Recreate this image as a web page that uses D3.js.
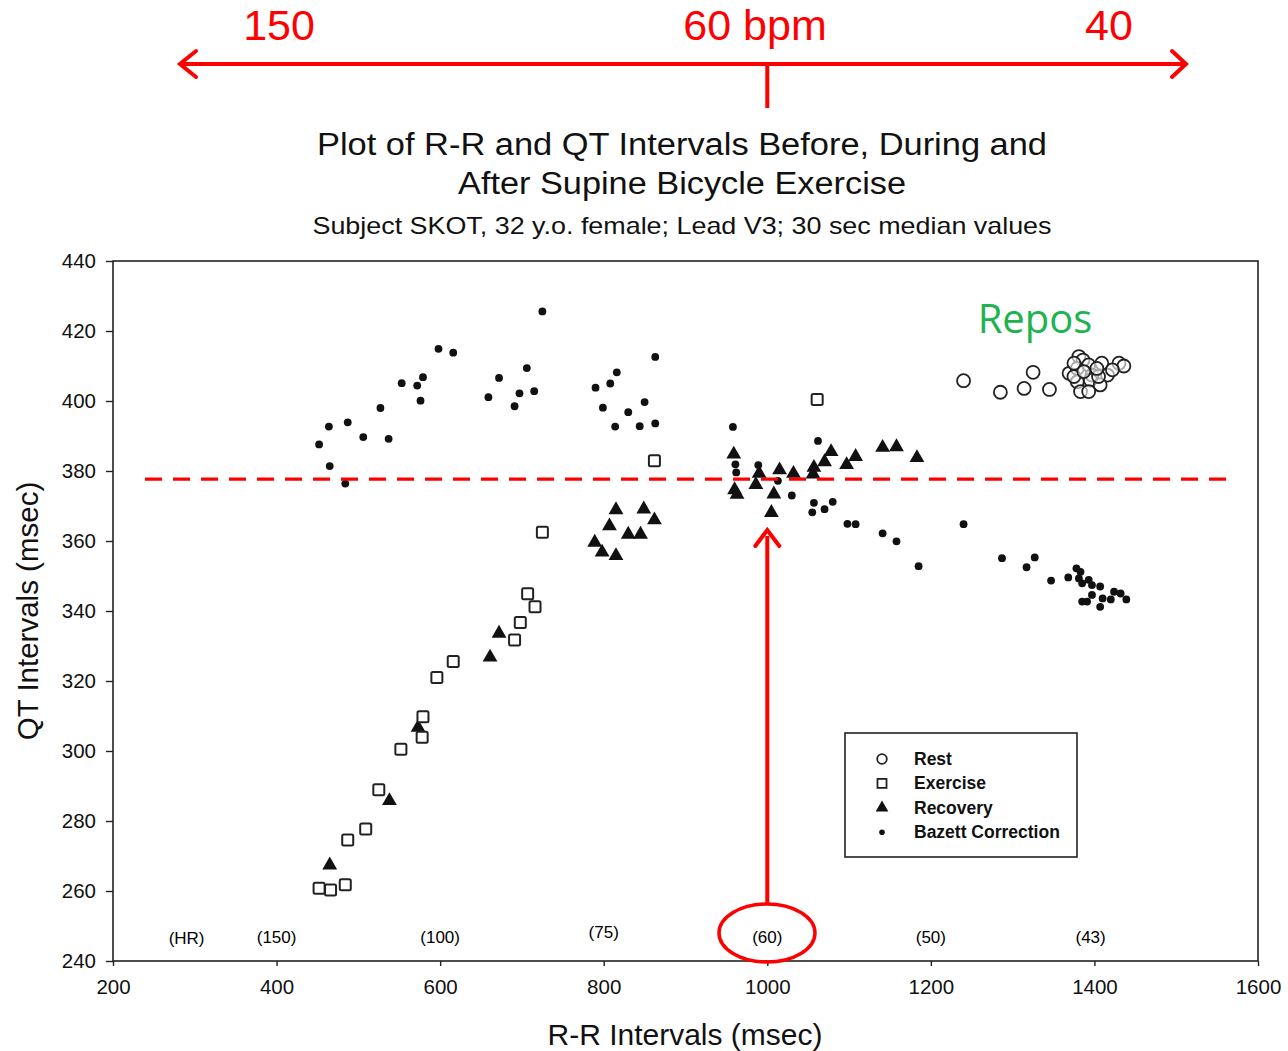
<!DOCTYPE html>
<html>
<head>
<meta charset="utf-8">
<script src="https://cdn.jsdelivr.net/npm/d3@7"></script>
<style>
  body { margin: 0; background: #fff; }
  svg { font-family: "Liberation Sans", Arial, sans-serif; }
</style>
</head>
<body>
<svg id="chart" width="1288" height="1051"></svg>
<script>
// data: [R-R msec, QT msec]
var restPoints = [
  [1240,405.8],[1285,402.5],[1314,403.6],[1325,408.2],[1345,403.3],
  [1381,412.7],[1386,411.7],[1369,407.9],[1379,409.3],[1393,410.3],[1397,407.4],
  [1409,410.8],[1416,407.4],[1430,410.8],[1436,410],[1379,405.5],[1395,406],
  [1407,404.6],[1383,402.7],[1393,402.7],[1405,407],[1375,407],[1387,408.4],
  [1403,409.3],[1422,408.9],[1375,410.8]
];
var exercisePoints = [
  [862,382.9],[725,362.5],[1061,400.4],[707,344.9],[716,341.2],[698,336.7],
  [691,331.7],[616,325.6],[596,321],[579,309.8],[578,303.9],[552,300.5],
  [525,288.9],[509,277.7],[487,274.6],[484,261.8],[466,260.3],[452,260.8]
];
var recoveryPoints = [
  [815,368.9],[849,369.1],[807,364.3],[862,366],[830,361.9],[845,361.9],
  [789,359.6],[798,356.8],[815,355.8],
  [959,384.8],[960,374.6],[963,373.3],[990,379.3],[986,376.1],[1015,380.3],
  [1008,373.4],[1005,368.1],[1032,379.3],[1056,379.1],[1057,381],[1070,382.6],
  [1078,385.5],[1097,381.8],[1108,384.1],[1141,386.7],[1158,386.9],[1183,383.8],
  [672,333.6],[661,326.8],[573,306.7],[538,285.8],[465,267.4]
];
var bazettPoints = [
  [725,425.6],[598,414.9],[616,413.8],[863,412.6],[706,409.4],[816,408.2],
  [672,406.6],[579,406.8],[553,405.1],[572,404.4],[808,405],[790,403.8],
  [697,402.2],[715,402.8],[659,401.1],[576,400.1],[850,399.7],[691,398.5],
  [799,398.1],[527,398],[830,396.8],[464,392.7],[487,393.9],[814,392.7],
  [844,392.8],[863,393.6],[506,389.7],[537,389.2],[452,387.6],[465,381.4],[484,376.4],
  [958,392.6],[961,381.9],[962,379.6],[989,381.7],[1013,377.2],[1030,373],
  [1062,388.6],[1057,370.9],[1055,368.2],[1070,369.1],[1080,371.2],[1098,364.9],
  [1108,364.8],[1141,362.2],[1158,359.9],[1185,352.8],
  [1240,364.8],[1287,355.1],[1327,355.3],[1317,352.5],[1347,348.7],[1368,349.6],
  [1378,352.2],[1383,351.2],[1381,349.3],[1385,347.9],[1393,348.9],[1397,347.4],
  [1407,347],[1397,344.6],[1410,343.6],[1407,341.2],[1385,342.7],[1391,342.7],
  [1420,343.3],[1424,345.5],[1432,345],[1439,343.3]
];

var xTicks = [200, 400, 600, 800, 1000, 1200, 1400, 1600];
var yTicks = [240, 260, 280, 300, 320, 340, 360, 380, 400, 420, 440];
// heart rate labels inside the plot (bpm), placed at R-R = 60000/HR
var hrLabels = [150, 100, 75, 60, 50, 43];
var bazettLine = 377.7;   // red dashed reference QT
var legendItems = ["Rest", "Exercise", "Recovery", "Bazett Correction"];
var topLabels = ["150", "60 bpm", "40"];

var svg = d3.select("#chart");
var pL = 113, pR = 1258, pT = 261, pB = 961;

var x = d3.scaleLinear().domain([200, 1600]).range([pL, pR]);
var y = d3.scaleLinear().domain([240, 440]).range([pB, pT]);

// frame
svg.append("rect")
  .attr("x", pL).attr("y", pT)
  .attr("width", pR - pL).attr("height", pB - pT)
  .attr("fill", "none").attr("stroke", "#222").attr("stroke-width", 1.6);

// axes
var xAxis = svg.append("g")
  .attr("transform", "translate(0," + pB + ")")
  .call(d3.axisBottom(x).tickValues(xTicks).tickFormat(d3.format("d")).tickSize(5).tickPadding(13));
var yAxis = svg.append("g")
  .attr("transform", "translate(" + pL + ",0)")
  .call(d3.axisLeft(y).tickValues(yTicks).tickSize(7).tickPadding(10));
[xAxis, yAxis].forEach(function(g) {
  g.select(".domain").remove();
  g.selectAll("line").attr("stroke", "#222").attr("stroke-width", 1.4);
  g.selectAll("text").attr("fill", "#111")
    .style("font-size", "20.5px").style("font-family", "'Liberation Sans', Arial, sans-serif");
});

// HR labels
svg.append("text").attr("x", x(290)).attr("y", 944)
  .attr("text-anchor", "middle").style("font-size", "17px").text("(HR)");
svg.selectAll(".hr").data(hrLabels).enter().append("text")
  .attr("class", "hr")
  .attr("x", function(d) { return x(60000 / d); })
  .attr("y", function(d) { return d == 75 ? 938 : 943; })
  .attr("text-anchor", "middle").style("font-size", "17px")
  .text(function(d) { return "(" + d + ")"; });

// points
var px = function(d) { return x(d[0]); }, py = function(d) { return y(d[1]); };

svg.append("g").selectAll("circle").data(bazettPoints).enter().append("circle")
  .attr("cx", px).attr("cy", py).attr("r", 3.9).attr("fill", "#111");

svg.append("g").selectAll("path").data(recoveryPoints).enter().append("path")
  .attr("d", d3.symbol().type(d3.symbolTriangle).size(95))
  .attr("transform", function(d) { return "translate(" + px(d) + "," + py(d) + ")"; })
  .attr("fill", "#111");

svg.append("g").selectAll("rect").data(exercisePoints).enter().append("rect")
  .attr("x", function(d) { return px(d) - 5.5; })
  .attr("y", function(d) { return py(d) - 5.5; })
  .attr("width", 11).attr("height", 11).attr("rx", 1.5)
  .attr("fill", "#fff").attr("stroke", "#222").attr("stroke-width", 2);

svg.append("g").selectAll("circle").data(restPoints).enter().append("circle")
  .attr("cx", px).attr("cy", py).attr("r", 6.5)
  .attr("fill", "#fff").attr("fill-opacity", 0.6)
  .attr("stroke", "#222").attr("stroke-width", 1.8);

// legend
var lg = svg.append("g");
lg.append("rect").attr("x", 845).attr("y", 733).attr("width", 232).attr("height", 124)
  .attr("fill", "#fff").attr("stroke", "#222").attr("stroke-width", 1.6);
legendItems.forEach(function(name, i) {
  var cy = 759 + i * 24.4, cx = 882;
  if (i == 0) lg.append("circle").attr("cx", cx).attr("cy", cy).attr("r", 4.8)
      .attr("fill", "none").attr("stroke", "#222").attr("stroke-width", 1.8);
  if (i == 1) lg.append("rect").attr("x", cx - 4.5).attr("y", cy - 4.5).attr("width", 9).attr("height", 9)
      .attr("fill", "none").attr("stroke", "#222").attr("stroke-width", 1.8);
  if (i == 2) lg.append("path").attr("d", d3.symbol().type(d3.symbolTriangle).size(70))
      .attr("transform", "translate(" + cx + "," + cy + ")").attr("fill", "#111");
  if (i == 3) lg.append("circle").attr("cx", cx).attr("cy", cy).attr("r", 2.8).attr("fill", "#111");
  lg.append("text").attr("x", 914).attr("y", cy + 6)
    .style("font-size", "17.5px").style("font-weight", "600").attr("fill", "#111").text(name);
});

// titles
svg.append("text").attr("x", 682).attr("y", 155).attr("text-anchor", "middle")
  .style("font-size", "31px").attr("fill", "#111")
  .attr("textLength", 730).attr("lengthAdjust", "spacingAndGlyphs")
  .text("Plot of R-R and QT Intervals Before, During and");
svg.append("text").attr("x", 682).attr("y", 194).attr("text-anchor", "middle")
  .style("font-size", "31px").attr("fill", "#111")
  .attr("textLength", 448).attr("lengthAdjust", "spacingAndGlyphs")
  .text("After Supine Bicycle Exercise");
svg.append("text").attr("x", 682).attr("y", 234).attr("text-anchor", "middle")
  .style("font-size", "24px").attr("fill", "#111")
  .attr("textLength", 739).attr("lengthAdjust", "spacingAndGlyphs")
  .text("Subject SKOT, 32 y.o. female; Lead V3; 30 sec median values");
svg.append("text").attr("x", 685).attr("y", 1045).attr("text-anchor", "middle")
  .style("font-size", "30px").attr("fill", "#111").text("R-R Intervals (msec)");
svg.append("text").attr("transform", "translate(38,611) rotate(-90)").attr("text-anchor", "middle")
  .style("font-size", "29.5px").attr("fill", "#111").text("QT Intervals (msec)");

// red annotations
var red = "#f00";
svg.append("line").attr("x1", 145).attr("x2", 1226)
  .attr("y1", y(bazettLine)).attr("y2", y(bazettLine))
  .attr("stroke", red).attr("stroke-width", 3.2).attr("stroke-dasharray", "17,11");

svg.append("line").attr("x1", 182).attr("x2", 1184).attr("y1", 64).attr("y2", 64)
  .attr("stroke", red).attr("stroke-width", 4);
svg.append("path").attr("d", "M196,51 L180,64 L196,77").attr("fill", "none")
  .attr("stroke", red).attr("stroke-width", 4).attr("stroke-linecap", "round");
svg.append("path").attr("d", "M1172,51 L1186,64 L1172,77").attr("fill", "none")
  .attr("stroke", red).attr("stroke-width", 4).attr("stroke-linecap", "round");
svg.append("line").attr("x1", x(1000)).attr("x2", x(1000)).attr("y1", 64).attr("y2", 108)
  .attr("stroke", red).attr("stroke-width", 4);
svg.selectAll(".toplab").data(topLabels).enter().append("text")
  .attr("class", "toplab")
  .attr("x", function(d, i) { return [279, 755, 1109][i]; }).attr("y", 40)
  .attr("text-anchor", "middle").attr("fill", red)
  .style("font-size", "43px").style("font-family", "'Liberation Sans', Arial, sans-serif")
  .text(function(d) { return d; });

// arrow up to 60 bpm point
svg.append("line").attr("x1", x(1000)).attr("x2", x(1000)).attr("y1", 904).attr("y2", 536)
  .attr("stroke", red).attr("stroke-width", 4);
svg.append("path").attr("d", "M" + (x(1000) - 12) + ",546 L" + x(1000) + ",530 L" + (x(1000) + 12) + ",546")
  .attr("fill", "none").attr("stroke", red).attr("stroke-width", 4).attr("stroke-linecap", "round");
svg.append("ellipse").attr("cx", 767).attr("cy", 933).attr("rx", 48).attr("ry", 29)
  .attr("fill", "none").attr("stroke", red).attr("stroke-width", 3.5);

svg.append("text").attr("x", 1035).attr("y", 333).attr("text-anchor", "middle")
  .attr("fill", "#1db34f").style("font-size", "40px")
  .style("font-family", "'Open Sans', 'Noto Sans', sans-serif").text("Repos");
</script>
</body>
</html>
